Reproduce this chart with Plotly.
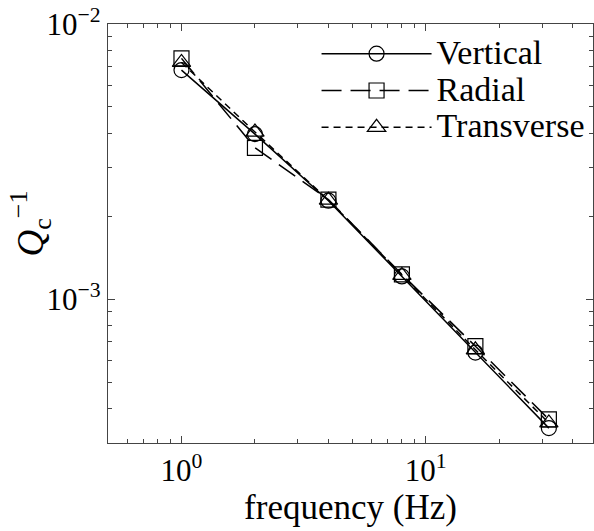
import plotly.graph_objects as go

freq = [1, 2, 4, 8, 16, 32]
vertical = [6.8e-3, 3.98e-3, 2.28e-3, 1.21e-3, 6.4e-4, 3.40e-4]
radial = [7.5e-3, 3.55e-3, 2.30e-3, 1.23e-3, 6.75e-4, 3.66e-4]
transverse = [7.25e-3, 4.05e-3, 2.29e-3, 1.22e-3, 6.55e-4, 3.55e-4]
names = ["Vertical", "Radial", "Transverse"]

xtick_vals = [1, 10]
xtick_text = ["10<sup>0</sup>", "10<sup>1</sup>"]
ytick_vals = [1e-3, 1e-2]
ytick_text = ["10<sup>−3</sup>", "10<sup>−2</sup>"]

FONT = "Liberation Serif"

fig = go.Figure()
series = [
    (names[0], vertical, "solid", "circle-open", 15),
    (names[1], radial, "20px,9px", "square-open", 15),
    (names[2], transverse, "7px,5px", "triangle-up-open", 16),
]
for name, vals, dash, sym, size in series:
    fig.add_trace(go.Scatter(
        x=freq, y=vals, mode="lines+markers",
        name="<span style='font-size:34px'>" + name + "</span>",
        line=dict(color="black", width=1.5, dash=dash),
        marker=dict(symbol=sym, size=size, color="black",
                    line=dict(color="black", width=1.2)),
    ))

minor_x = [0.6, 0.7, 0.8, 0.9, 2, 3, 4, 5, 6, 7, 8, 9, 20, 30, 40]
minor_y = [4e-4, 5e-4, 6e-4, 7e-4, 8e-4, 9e-4, 2e-3, 3e-3, 4e-3, 5e-3, 6e-3, 7e-3, 8e-3, 9e-3]

axis_common = dict(
    type="log", showgrid=False, zeroline=False,
    showline=True, linecolor="#444", linewidth=1.2, mirror="allticks",
    ticks="inside", ticklen=7, tickwidth=1, tickcolor="#444",
    tickfont=dict(family=FONT, size=31, color="black"),
)
fig.update_xaxes(
    **axis_common,
    range=[-0.30103, 1.686],
    tickmode="array", tickvals=xtick_vals, ticktext=xtick_text,
    minor=dict(tickmode="array", tickvals=minor_x, ticks="inside", ticklen=4, tickcolor="#444"),
    title=dict(text="frequency (Hz)", font=dict(family=FONT, size=35, color="black"), standoff=2),
)
fig.update_yaxes(
    **axis_common,
    range=[-3.5225, -2.0],
    tickmode="array", tickvals=ytick_vals, ticktext=ytick_text,
    minor=dict(tickmode="array", tickvals=minor_y, ticks="inside", ticklen=4, tickcolor="#444"),
)
fig.add_annotation(
    text="<i>Q</i><sub>c</sub><sup>−1</sup>",
    xref="paper", yref="paper", x=-0.16, y=0.525,
    xanchor="center", yanchor="middle", textangle=-90, showarrow=False,
    font=dict(family=FONT, size=37, color="black"),
)
fig.update_layout(
    width=594, height=531,
    margin=dict(l=108, r=1, t=24, b=88),
    plot_bgcolor="white", paper_bgcolor="white",
    showlegend=True,
    legend=dict(x=0.43, y=0.985, xanchor="left", yanchor="top",
                bgcolor="rgba(0,0,0,0)", borderwidth=0,
                font=dict(family=FONT, size=26, color="black"),
                itemwidth=110, tracegroupgap=0),
)
fig.write_html("out.html")
